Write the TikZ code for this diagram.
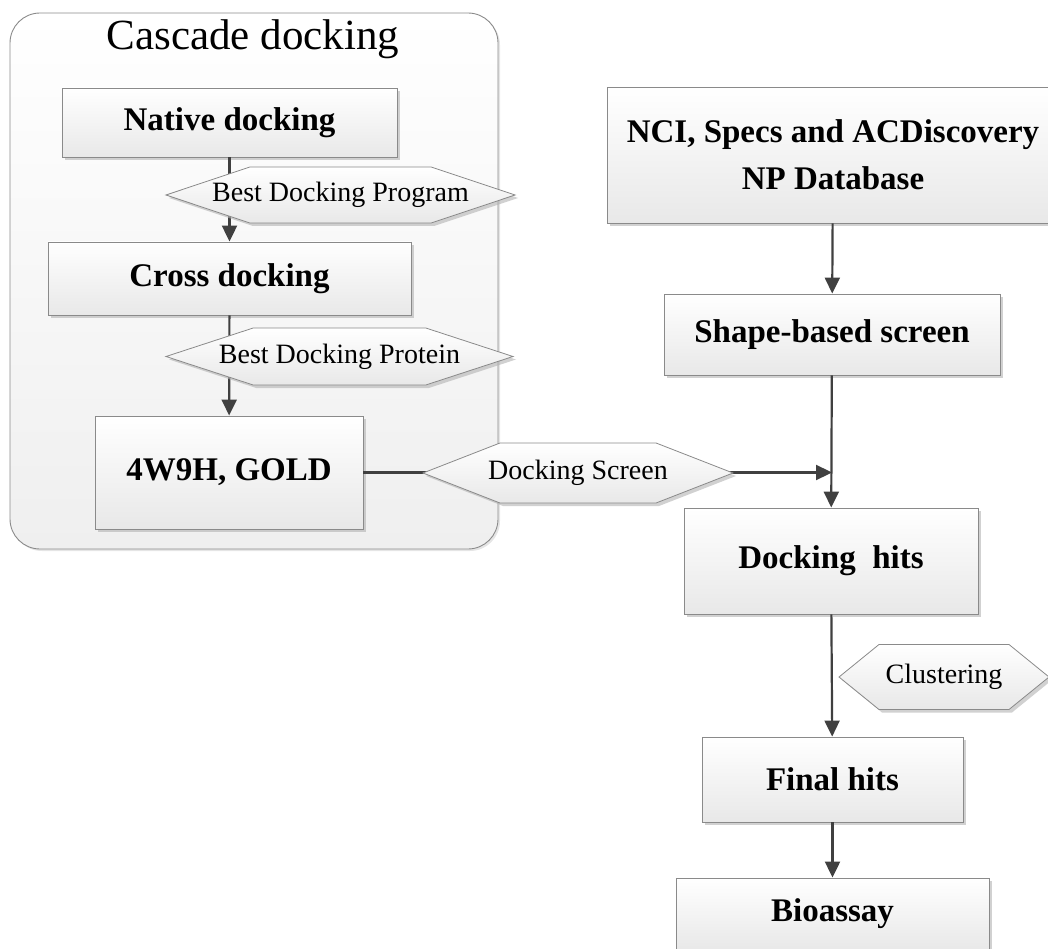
\documentclass[tikz,border=0pt]{standalone}
\usepackage{fontspec}
\setmainfont{Liberation Serif}
\usetikzlibrary{shapes.symbols,shadows,arrows.meta}

\definecolor{edge}{HTML}{8A8A8A}
\definecolor{wire}{HTML}{404040}
\definecolor{boxlow}{HTML}{E8E8E8}
\definecolor{panellow}{HTML}{EFEFEF}

% label text that may run past the straight edges of its hexagon
\newcommand{\hexlabel}[1]{\makebox[0pt]{#1}}

\begin{document}
\begin{tikzpicture}[x=1pt,y=-1pt,
  panel/.style={rectangle, draw=edge, line width=0.9pt, rounded corners=30pt,
    top color=white, bottom color=panellow,
    drop shadow={shadow xshift=2pt, shadow yshift=-2pt, fill=black!20, opacity=0.5}},
  stage/.style={rectangle, draw=edge, line width=0.9pt, top color=white, bottom color=boxlow,
    drop shadow={shadow xshift=3pt, shadow yshift=-3pt, fill=black!30, opacity=0.6},
    font=\fontsize{33}{47}\selectfont\bfseries, align=center, inner sep=0pt},
  choice/.style={signal, signal to=west and east, draw=edge, line width=0.8pt,
    top color=white, bottom color=boxlow,
    drop shadow={shadow xshift=3pt, shadow yshift=-3pt, fill=black!30, opacity=0.6},
    font=\fontsize{28}{34}\selectfont, inner sep=0pt},
  flow/.style={draw=wire, line width=2.2pt, -{Triangle[length=16pt,width=15pt]}}
]
\useasboundingbox (0,0) rectangle (1048,949);
\clip (0,0) rectangle (1048,949);

% cascade docking panel
\node[panel, minimum width=488pt, minimum height=536pt] (cascade) at (254,281) {};
\node[font=\fontsize{43}{50}\selectfont, anchor=base] (title) at (253,50) {Cascade docking};

% process boxes
\node[stage, minimum width=335pt, minimum height=69pt] (native) at (229.5,122.5) {Native docking};
\node[stage, minimum width=363pt, minimum height=73pt] (cross) at (229.5,278.5) {Cross docking};
\node[stage, minimum width=268pt, minimum height=113pt] (gold) at (229,472.5) {4W9H, GOLD};
\node[stage, minimum width=452pt, minimum height=136pt] (nci) at (833,155) {NCI, Specs and ACDiscovery\\NP Database};
\node[stage, minimum width=336pt, minimum height=81pt] (shape) at (832,334.5) {Shape-based screen};
\node[stage, minimum width=294pt, minimum height=106pt] (hits) at (831,561) {Docking\ \ hits};
\node[stage, minimum width=261pt, minimum height=85pt] (final) at (832.5,779.5) {Final hits};
\node[stage, minimum width=313pt, minimum height=72pt] (bio) at (832.5,914) {Bioassay};

% connectors
\coordinate (merge) at (shape.south |- gold.east);
\draw[flow] (native) -- (cross);
\draw[flow] (cross) -- (gold);
\draw[flow] (gold) -- (merge);
\draw[flow] (nci) -- (shape);
\draw[flow] (shape) -- (hits);
\draw[flow] (hits) -- (final);
\draw[flow] (final) -- (bio);

% decision labels on the connectors
\node[choice, signal pointer angle=36.9, minimum width=349pt, minimum height=56pt] (program) at (340.5,195) {\hexlabel{Best Docking Program}};
\node[choice, signal pointer angle=36.2, minimum width=347pt, minimum height=57pt] (protein) at (339.5,356.5) {\hexlabel{Best Docking Protein}};
\node[choice, signal pointer angle=42.6, minimum width=310pt, minimum height=60pt] (screen) at (578,473) {\hexlabel{Docking Screen}};
\node[choice, signal pointer angle=78.2, minimum width=210pt, minimum height=65pt] (cluster) at (944,677) {\hexlabel{Clustering}};
\end{tikzpicture}
\end{document}
